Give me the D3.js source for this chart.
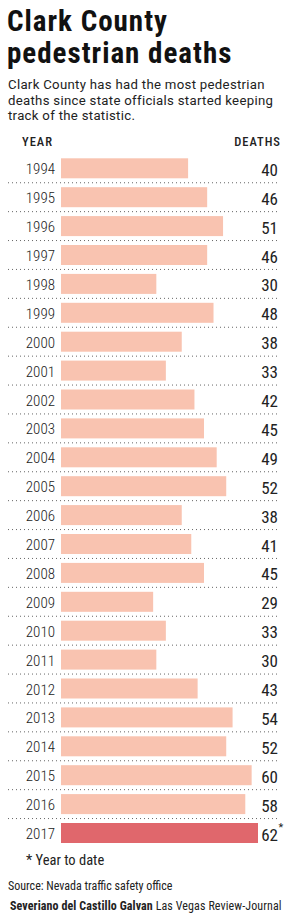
<!DOCTYPE html>
<html>
<head>
<meta charset="utf-8">
<script src="https://cdn.jsdelivr.net/npm/d3@7"></script>
<style>
  body { margin: 0; background: #fff; }
  svg text { font-family: "Roboto Condensed", "DejaVu Sans Condensed", "Liberation Sans Narrow", Roboto, sans-serif; font-stretch: condensed; fill: #222; }
</style>
</head>
<body>
<div id="chart"></div>
<script>
const ancho = 300;
const alto = 915;

// datos
const years = ["1994","1995","1996","1997","1998","1999","2000","2001","2002","2003","2004","2005",
  "2006","2007","2008","2009","2010","2011","2012","2013","2014","2015","2016","2017"];
const deaths = [40,46,51,46,30,48,38,33,42,45,49,52,38,41,45,29,33,30,43,54,52,60,58,62];
const titleLines = ["Clark County", "pedestrian deaths"];
const subtitleLines = ["Clark County has had the most pedestrian",
  "deaths since state officials started keeping", "track of the statistic."];

const datos = years.map((y, i) => ({ year: y, value: deaths[i], partial: y === "2017" }));

const svg = d3.select("#chart").append("svg")
  .attr("width", ancho)
  .attr("height", alto);

const x = d3.scaleLinear().domain([0, 62]).range([61, 258]);
const y = d3.scaleBand().domain(years).range([153.85, 847.45]).paddingInner(0.308).paddingOuter(0.154);

// titulo
svg.selectAll(".title").data(titleLines).enter().append("text")
  .attr("x", 7).attr("y", (d, i) => 31 + i * 31.5)
  .style("font-size", "29px").style("font-weight", "bold").style("fill", "#111")
  .style("letter-spacing", "1px")
  .text(d => d);

svg.selectAll(".sub").data(subtitleLines).enter().append("text")
  .attr("x", 8).attr("y", (d, i) => 89 + i * 15.5)
  .style("font-family", "Roboto, sans-serif").style("font-stretch", "normal")
  .style("font-size", "13.2px").style("letter-spacing", "0.3px")
  .text(d => d);

svg.append("text").attr("x", 22).attr("y", 146)
  .style("font-size", "12.5px").style("font-weight", "500").style("letter-spacing", "1px").text("YEAR");
svg.append("text").attr("x", 281).attr("y", 146).attr("text-anchor", "end")
  .style("font-size", "12.5px").style("font-weight", "500").style("letter-spacing", "1px").text("DEATHS");

// lineas punteadas entre filas
svg.selectAll(".sep").data(years.slice(0, -1)).enter().append("line")
  .attr("x1", 8).attr("x2", 280)
  .attr("y1", d => y(d) + y.bandwidth() + y.step() * 0.154)
  .attr("y2", d => y(d) + y.bandwidth() + y.step() * 0.154)
  .attr("stroke", "#666").attr("stroke-width", 1).attr("stroke-dasharray", "1,3");

svg.selectAll(".bar").data(datos).enter().append("rect")
  .attr("x", x(0))
  .attr("y", d => y(d.year))
  .attr("width", d => x(d.value) - x(0))
  .attr("height", y.bandwidth())
  .attr("fill", d => d.partial ? "#e0676c" : "#f9c3b0");

svg.selectAll(".yr").data(datos).enter().append("text")
  .attr("x", 55).attr("y", d => y(d.year) + 16)
  .attr("text-anchor", "end")
  .style("font-size", "15px").style("font-weight", "300")
  .text(d => d.year);

svg.selectAll(".val").data(datos).enter().append("text")
  .attr("x", 278).attr("y", d => y(d.year) + 17.5)
  .attr("text-anchor", "end")
  .style("font-size", "17px")
  .text(d => d.value);

svg.append("text").attr("x", 278.5).attr("y", y("2017") + 8)
  .style("font-size", "11px").text("*");

svg.append("text").attr("x", 26).attr("y", 865)
  .style("font-size", "14.5px").text("* Year to date");
svg.append("text").attr("x", 8).attr("y", 890)
  .style("font-size", "12px").text("Source: Nevada traffic safety office");

const credito = svg.append("text").attr("x", 10).attr("y", 910).style("font-size", "12px")
  .style("letter-spacing", "0.1px");
credito.append("tspan").style("font-weight", "bold").text("Severiano del Castillo Galvan");
credito.append("tspan").text(" Las Vegas Review-Journal");
</script>
</body>
</html>
